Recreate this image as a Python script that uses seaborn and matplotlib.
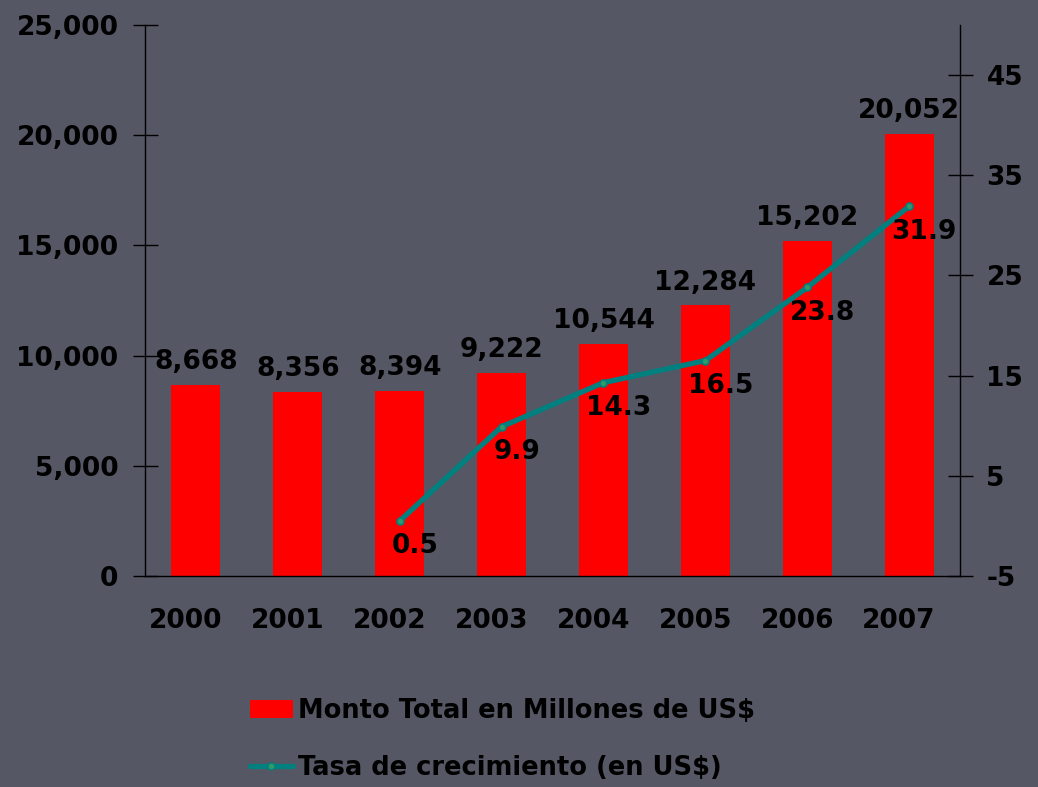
import numpy as np
import pandas as pd
import matplotlib
matplotlib.use("Agg")
import matplotlib.pyplot as plt
import matplotlib.transforms as mtransforms
from matplotlib.patches import Patch
from matplotlib.lines import Line2D
import seaborn as sns

years = ["2000", "2001", "2002", "2003", "2004", "2005", "2006", "2007"]
monto = [8668, 8356, 8394, 9222, 10544, 12284, 15202, 20052]
tasa = [np.nan, np.nan, 0.5, 9.9, 14.3, 16.5, 23.8, 31.9]
left_ticks = [0, 5000, 10000, 15000, 20000, 25000]
right_ticks = [-5, 5, 15, 25, 35, 45]

bg = "#555764"
bar_red = "#ff0000"
teal = "#00807f"
fs = 19

sns.set_style("white")
plt.rcParams["font.family"] = ["DejaVu Sans"]
plt.rcParams["font.weight"] = "bold"
plt.rcParams["text.color"] = "black"

df = pd.DataFrame({"year": years, "monto": monto, "tasa": tasa, "pos": np.arange(len(years))})

fig = plt.figure(figsize=(10.38, 7.87), dpi=100, facecolor=bg)
ax = fig.add_axes([145 / 1038, 1 - 576 / 787, (960 - 145) / 1038, (576 - 25) / 787])
ax.set_facecolor("none")

sns.barplot(data=df, x="pos", y="monto", color=bar_red, width=0.48, saturation=1,
            native_scale=True, ax=ax)
for p in ax.patches:
    p.set_edgecolor("none")

ax2 = ax.twinx()
sns.lineplot(data=df.dropna(), x="pos", y="tasa", color=teal, linewidth=3.8,
             marker="o", markersize=5, markerfacecolor="#2f9a66", markeredgecolor=teal,
             markeredgewidth=1.2, ax=ax2)

ax.set_xlim(-0.5, 7.5)
ax.set_ylim(0, 25000)
ax2.set_ylim(-5, 50)

ax.set_yticks(left_ticks)
ax.set_yticklabels([f"{v:,}" for v in left_ticks])
ax2.set_yticks(right_ticks)
ax2.set_yticklabels([str(v) for v in right_ticks])

# category boundary ticks, labels at centers
ax.set_xticks(np.arange(-0.5, 8, 1))
ax.set_xticklabels([])
ax.set_xticks(np.arange(len(years)), minor=True)
ax.set_xticklabels(years, minor=True)
ax.tick_params(axis="x", which="minor", length=0, pad=23, labelsize=fs, labelcolor="black")
ax.tick_params(axis="x", which="major", direction="inout", length=15, width=1, color="black")
ax.tick_params(axis="y", direction="inout", length=18, width=1, color="black",
               pad=10, labelsize=fs, labelcolor="black")
ax2.tick_params(axis="y", direction="inout", length=18, width=1, color="black",
                pad=10, labelsize=fs, labelcolor="black")
shift = mtransforms.ScaledTranslation(-10 / 100, 0, fig.dpi_scale_trans)
for lbl in ax.get_xticklabels(minor=True):
    lbl.set_transform(lbl.get_transform() + shift)
    lbl.set_fontweight("bold")
for lbl in ax.get_yticklabels() + ax2.get_yticklabels():
    lbl.set_fontweight("bold")

ax.set_xlabel("")
ax.set_ylabel("")
ax2.set_xlabel("")
ax2.set_ylabel("")

for a in (ax, ax2):
    for s in a.spines.values():
        s.set_color("black")
        s.set_linewidth(1)
    a.spines["top"].set_visible(False)
ax2.spines["left"].set_visible(False)
ax2.spines["bottom"].set_visible(False)
ax.spines["right"].set_visible(False)

for i, v in enumerate(monto):
    ax.annotate(f"{v:,}", (i, v), xytext=(0, 7), textcoords="offset points",
                ha="center", va="bottom", fontsize=fs, fontweight="bold", color="black")
for i, v in enumerate(tasa):
    if np.isnan(v):
        continue
    ax2.annotate(f"{v}", (i, v), xytext=(11, -9), textcoords="offset points",
                 ha="center", va="top", fontsize=fs, fontweight="bold", color="black")

handles = [Patch(facecolor=bar_red, edgecolor="none"),
           Line2D([], [], color=teal, linewidth=3.8, marker="o", markersize=5,
                  markerfacecolor="#2f9a66", markeredgecolor=teal)]
labels = ["Monto Total en Millones de US$", "Tasa de crecimiento (en US$)"]
leg = fig.legend(handles, labels, loc="upper left", bbox_to_anchor=(240 / 1038, 1 - 688 / 787),
                 frameon=False, prop={"size": 18.5, "weight": "bold"}, handlelength=1.65,
                 handletextpad=0.2, labelspacing=1.2, borderaxespad=0)
for t in leg.get_texts():
    t.set_color("black")

fig.savefig("out.png", dpi=100, facecolor=bg)
